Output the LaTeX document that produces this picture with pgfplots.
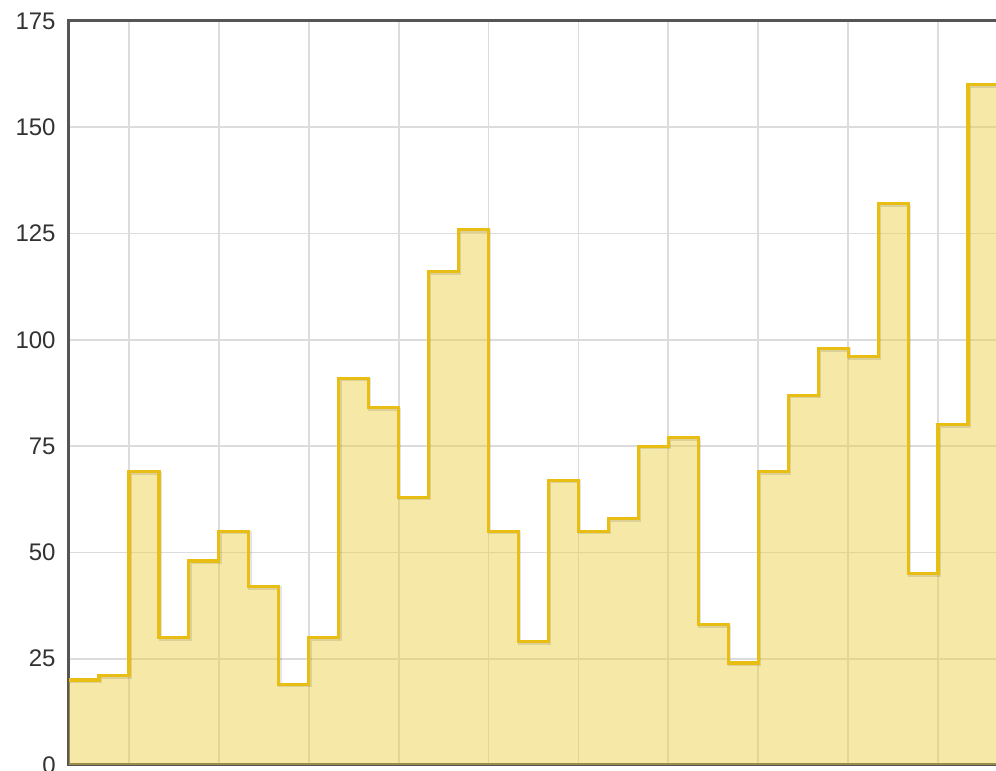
\documentclass[border=0pt]{standalone}
\usepackage{fontspec}
\setmainfont{Liberation Sans}
\usepackage{pgfplots}
\usepackage{pgfplotstable}
\pgfplotsset{compat=1.18}
\definecolor{linegold}{RGB}{232,190,20}
\definecolor{fillgold}{RGB}{236,205,60}
\definecolor{axisgray}{RGB}{85,85,85}
\definecolor{gridgray}{RGB}{220,220,220}
\definecolor{labelgray}{RGB}{50,50,50}
\pgfplotsset{layers/mylayers/.define layer set={axis background,axis grid,main,axis ticks,axis lines,axis tick labels,axis descriptions,axis foreground}{}}
\pgfplotstableread{
x y
0 20
1 21
2 69
3 30
4 48
5 55
6 42
7 19
8 30
9 91
10 84
11 63
12 116
13 126
14 55
15 29
16 67
17 55
18 58
19 75
20 77
21 33
22 24
23 69
24 87
25 98
26 96
27 132
28 45
29 80
30 160
31 160
}\data
\begin{document}
\begin{tikzpicture}
\begin{axis}[
  set layers=mylayers,
  scale only axis, width=479.5pt, height=372pt,
  xmin=0, xmax=32, ymin=0, ymax=175,
  ytick={0,25,...,175}, xtick={2,5,...,29}, xticklabels={},
  grid=major, grid style={gridgray, line width=0.9pt},
  major tick length=0pt,
  axis line style={axisgray, line width=1.5pt},
  tick label style={font=\fontsize{12}{14}\selectfont, text=labelgray},
  yticklabel style={anchor=east, inner sep=0pt, xshift=-6.5pt},
  /pgf/number format/assume math mode=true,
]
\addplot[const plot, draw=none, fill=fillgold, fill opacity=0.45] table[x=x,y=y]{\data} \closedcycle;
\addplot[const plot, draw=black, opacity=0.10, line width=1.6pt, shift={(0.6pt,-0.8pt)}] table[x=x,y=y]{\data};
\addplot[const plot, draw=linegold, line width=1.6pt, line join=miter] table[x=x,y=y]{\data};
\end{axis}
\pgfresetboundingbox
\useasboundingbox (-34.5pt,-3pt) rectangle (463.5pt,382.5pt);
\end{tikzpicture}
\end{document}
